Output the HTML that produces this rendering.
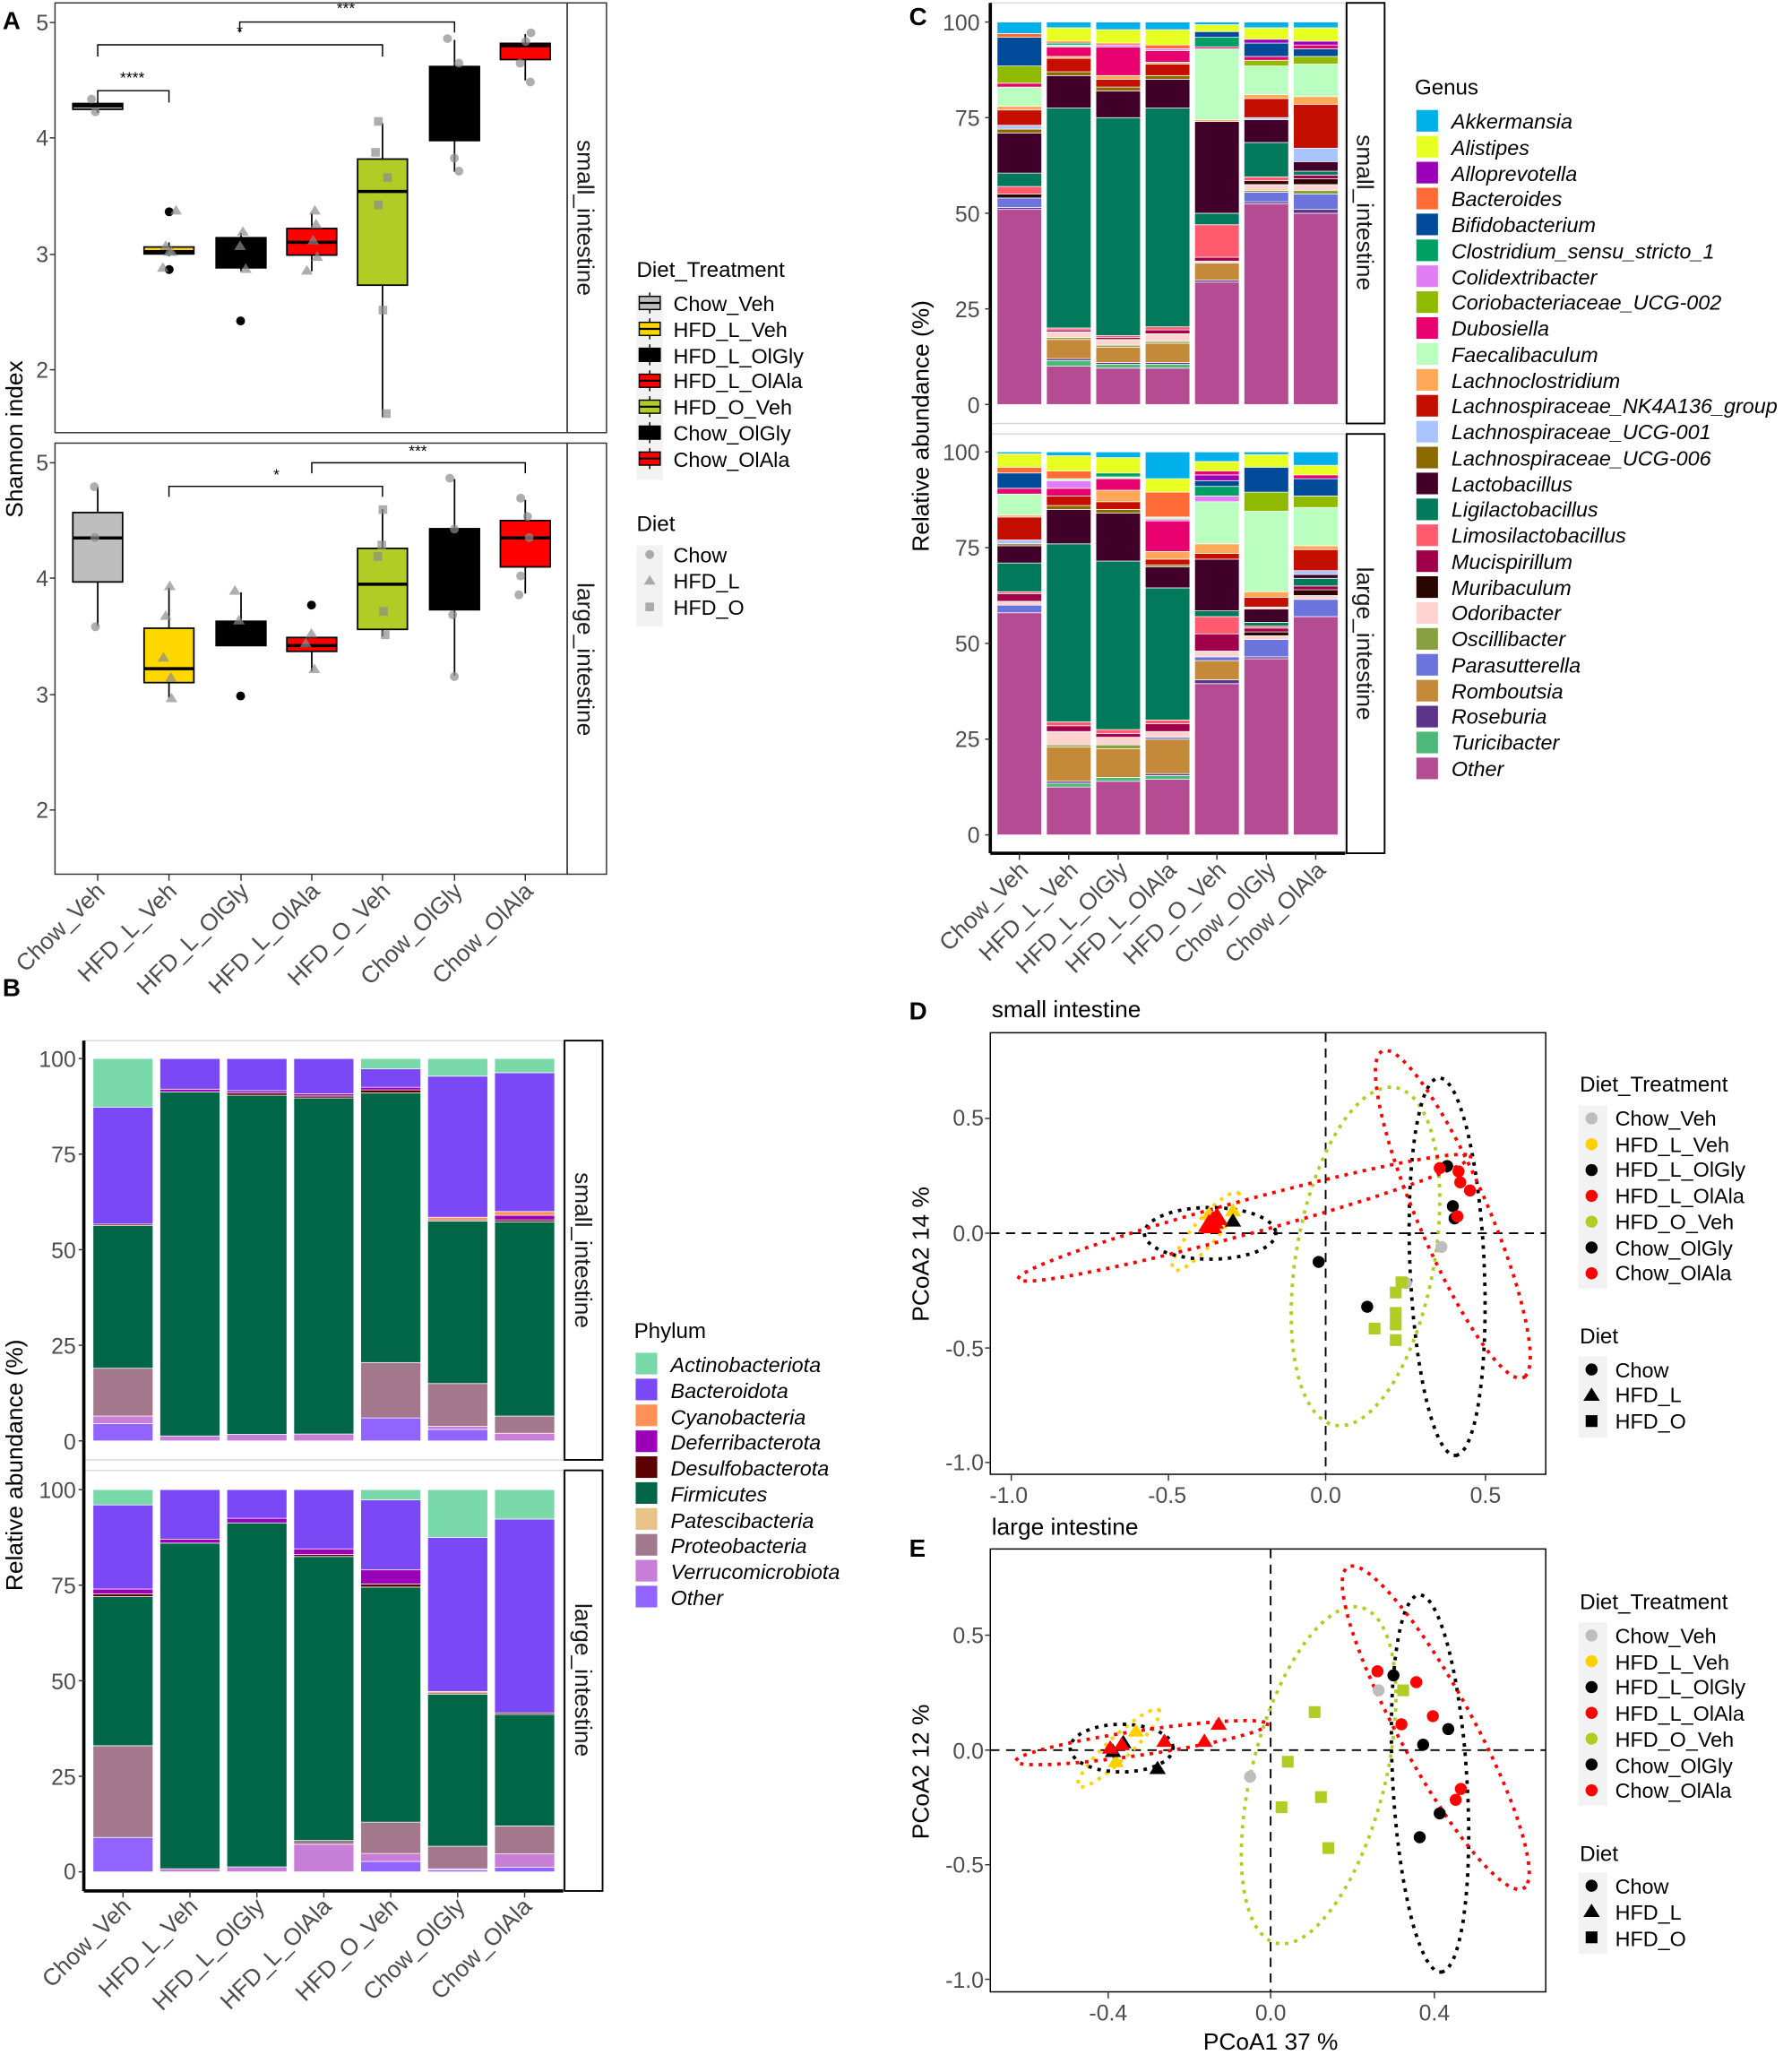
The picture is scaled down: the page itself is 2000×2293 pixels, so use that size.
<!DOCTYPE html>
<html><head><meta charset="utf-8"><style>
html,body{margin:0;padding:0;background:#fff}
svg{display:block}
text{font-family:"Liberation Sans",Arial,sans-serif}
.tk{font-size:17px;fill:#4d4d4d}
.lg{font-size:16px;fill:#000}
.lt{font-size:16.5px;fill:#000}
.it{font-size:16px;font-style:italic;fill:#000}
.st{font-size:18px;fill:#1a1a1a}
.at{font-size:18px;fill:#000}
.xl{font-size:18px;fill:#4d4d4d}
.pl{font-size:19px;font-weight:bold;fill:#000}
</style></head><body>
<svg id="s" xmlns="http://www.w3.org/2000/svg" width="2000" height="2293" viewBox="0 0 1368 1568">
<rect width="1368" height="1568" fill="#fff"/>
<g id="g"></g>
<!-- Panel letters -->
<text class="pl" x="2" y="22">A</text>
<text class="pl" x="2" y="760">B</text>
<text class="pl" x="694" y="19">C</text>
<text class="pl" x="694" y="778">D</text>
<text class="pl" x="694" y="1188">E</text>

<!-- Panel A ticks -->
<g class="tk" text-anchor="end">
<text x="37" y="23">5</text><text x="37" y="111">4</text><text x="37" y="200">3</text><text x="37" y="288">2</text>
<text x="37" y="359">5</text><text x="37" y="447">4</text><text x="37" y="536">3</text><text x="37" y="624">2</text>
</g>
<text class="at" transform="translate(17,335) rotate(-90)" text-anchor="middle">Shannon index</text>
<text class="st" transform="translate(441,166) rotate(90)" text-anchor="middle">small_intestine</text>
<text class="st" transform="translate(441,503) rotate(90)" text-anchor="middle">large_intestine</text>
<g class="xl" text-anchor="end">
<text transform="translate(81,681) rotate(-45)">Chow_Veh</text>
<text transform="translate(136,681) rotate(-45)">HFD_L_Veh</text>
<text transform="translate(191,681) rotate(-45)">HFD_L_OlGly</text>
<text transform="translate(245,681) rotate(-45)">HFD_L_OlAla</text>
<text transform="translate(299,681) rotate(-45)">HFD_O_Veh</text>
<text transform="translate(354,681) rotate(-45)">Chow_OlGly</text>
<text transform="translate(408,681) rotate(-45)">Chow_OlAla</text>
</g>
<g font-size="12" text-anchor="middle" fill="#000">
<text x="101" y="63">****</text><text x="183" y="28">*</text><text x="264" y="10">***</text>
<text x="211" y="366">*</text><text x="319" y="348">***</text>
</g>
<text class="lt" x="486" y="211">Diet_Treatment</text>
<g class="lg">
<text x="514" y="237">Chow_Veh</text><text x="514" y="257">HFD_L_Veh</text><text x="514" y="277">HFD_L_OlGly</text>
<text x="514" y="296">HFD_L_OlAla</text><text x="514" y="316">HFD_O_Veh</text><text x="514" y="336">Chow_OlGly</text><text x="514" y="356">Chow_OlAla</text>
</g>
<text class="lt" x="486" y="405">Diet</text>
<g class="lg"><text x="514" y="429">Chow</text><text x="514" y="449">HFD_L</text><text x="514" y="469">HFD_O</text></g>

<!-- Panel B -->
<g class="tk" text-anchor="end">
<text x="58" y="814">100</text><text x="58" y="887">75</text><text x="58" y="960">50</text><text x="58" y="1033">25</text><text x="58" y="1106">0</text>
<text x="58" y="1143">100</text><text x="58" y="1216">75</text><text x="58" y="1289">50</text><text x="58" y="1362">25</text><text x="58" y="1434">0</text>
</g>
<text class="at" transform="translate(17,1118) rotate(-90)" text-anchor="middle">Relative abundance (%)</text>
<text class="st" transform="translate(439,954) rotate(90)" text-anchor="middle">small_intestine</text>
<text class="st" transform="translate(439,1282) rotate(90)" text-anchor="middle">large_intestine</text>
<g class="xl" text-anchor="end">
<text transform="translate(101,1456) rotate(-45)">Chow_Veh</text>
<text transform="translate(152,1456) rotate(-45)">HFD_L_Veh</text>
<text transform="translate(203,1456) rotate(-45)">HFD_L_OlGly</text>
<text transform="translate(254,1456) rotate(-45)">HFD_L_OlAla</text>
<text transform="translate(305,1456) rotate(-45)">HFD_O_Veh</text>
<text transform="translate(356,1456) rotate(-45)">Chow_OlGly</text>
<text transform="translate(407,1456) rotate(-45)">Chow_OlAla</text>
</g>
<text class="lt" x="484" y="1021">Phylum</text>
<g class="it">
<text x="512" y="1047">Actinobacteriota</text><text x="512" y="1067">Bacteroidota</text><text x="512" y="1087">Cyanobacteria</text>
<text x="512" y="1106">Deferribacterota</text><text x="512" y="1126">Desulfobacterota</text><text x="512" y="1146">Firmicutes</text>
<text x="512" y="1166">Patescibacteria</text><text x="512" y="1185">Proteobacteria</text><text x="512" y="1205">Verrucomicrobiota</text><text x="512" y="1225">Other</text>
</g>

<!-- Panel C -->
<g class="tk" text-anchor="end">
<text x="748" y="23">100</text><text x="748" y="96">75</text><text x="748" y="169">50</text><text x="748" y="242">25</text><text x="748" y="315">0</text>
<text x="748" y="351">100</text><text x="748" y="424">75</text><text x="748" y="497">50</text><text x="748" y="570">25</text><text x="748" y="643">0</text>
</g>
<text class="at" transform="translate(709,325) rotate(-90)" text-anchor="middle">Relative abundance (%)</text>
<text class="st" transform="translate(1036,162) rotate(90)" text-anchor="middle">small_intestine</text>
<text class="st" transform="translate(1036,491) rotate(90)" text-anchor="middle">large_intestine</text>
<g class="xl" text-anchor="end">
<text transform="translate(786,665) rotate(-45)">Chow_Veh</text>
<text transform="translate(824,665) rotate(-45)">HFD_L_Veh</text>
<text transform="translate(862,665) rotate(-45)">HFD_L_OlGly</text>
<text transform="translate(899,665) rotate(-45)">HFD_L_OlAla</text>
<text transform="translate(937,665) rotate(-45)">HFD_O_Veh</text>
<text transform="translate(975,665) rotate(-45)">Chow_OlGly</text>
<text transform="translate(1013,665) rotate(-45)">Chow_OlAla</text>
</g>
<text class="lt" x="1080" y="72">Genus</text>
<g class="it" id="genusText">
<text x="1108" y="98">Akkermansia</text><text x="1108" y="118">Alistipes</text><text x="1108" y="138">Alloprevotella</text>
<text x="1108" y="157">Bacteroides</text><text x="1108" y="177">Bifidobacterium</text><text x="1108" y="197">Clostridium_sensu_stricto_1</text>
<text x="1108" y="217">Colidextribacter</text><text x="1108" y="236">Coriobacteriaceae_UCG-002</text><text x="1108" y="256">Dubosiella</text>
<text x="1108" y="276">Faecalibaculum</text><text x="1108" y="296">Lachnoclostridium</text><text x="1108" y="315">Lachnospiraceae_NK4A136_group</text>
<text x="1108" y="335">Lachnospiraceae_UCG-001</text><text x="1108" y="355">Lachnospiraceae_UCG-006</text><text x="1108" y="375">Lactobacillus</text>
<text x="1108" y="394">Ligilactobacillus</text><text x="1108" y="414">Limosilactobacillus</text><text x="1108" y="434">Mucispirillum</text>
<text x="1108" y="454">Muribaculum</text><text x="1108" y="473">Odoribacter</text><text x="1108" y="493">Oscillibacter</text>
<text x="1108" y="513">Parasutterella</text><text x="1108" y="533">Romboutsia</text><text x="1108" y="552">Roseburia</text>
<text x="1108" y="572">Turicibacter</text><text x="1108" y="592">Other</text>
</g>

<!-- Panel D/E -->
<text class="at" x="757" y="776">small intestine</text>
<text class="at" x="757" y="1171">large intestine</text>
<g class="tk" text-anchor="end">
<text x="751" y="859">0.5</text><text x="751" y="947">0.0</text><text x="751" y="1035">-0.5</text><text x="751" y="1122">-1.0</text>
<text x="751" y="1254">0.5</text><text x="751" y="1342">0.0</text><text x="751" y="1429">-0.5</text><text x="751" y="1517">-1.0</text>
</g>
<g class="tk" text-anchor="middle">
<text x="770" y="1147">-1.0</text><text x="891" y="1147">-0.5</text><text x="1012" y="1147">0.0</text><text x="1134" y="1147">0.5</text>
<text x="846" y="1542">-0.4</text><text x="970" y="1542">0.0</text><text x="1095" y="1542">0.4</text>
</g>
<text class="at" transform="translate(709,957) rotate(-90)" text-anchor="middle">PCoA2 14 %</text>
<text class="at" transform="translate(709,1352) rotate(-90)" text-anchor="middle">PCoA2 12 %</text>
<text class="at" x="970" y="1564" text-anchor="middle">PCoA1 37 %</text>
<text class="lt" x="1206" y="833">Diet_Treatment</text>
<g class="lg">
<text x="1233" y="859">Chow_Veh</text><text x="1233" y="879">HFD_L_Veh</text><text x="1233" y="898">HFD_L_OlGly</text>
<text x="1233" y="918">HFD_L_OlAla</text><text x="1233" y="938">HFD_O_Veh</text><text x="1233" y="958">Chow_OlGly</text><text x="1233" y="977">Chow_OlAla</text>
</g>
<text class="lt" x="1206" y="1025">Diet</text>
<g class="lg"><text x="1233" y="1051">Chow</text><text x="1233" y="1070">HFD_L</text><text x="1233" y="1090">HFD_O</text></g>
<text class="lt" x="1206" y="1228">Diet_Treatment</text>
<g class="lg">
<text x="1233" y="1254">Chow_Veh</text><text x="1233" y="1274">HFD_L_Veh</text><text x="1233" y="1293">HFD_L_OlGly</text>
<text x="1233" y="1313">HFD_L_OlAla</text><text x="1233" y="1333">HFD_O_Veh</text><text x="1233" y="1353">Chow_OlGly</text><text x="1233" y="1372">Chow_OlAla</text>
</g>
<text class="lt" x="1206" y="1420">Diet</text>
<g class="lg"><text x="1233" y="1445">Chow</text><text x="1233" y="1465">HFD_L</text><text x="1233" y="1485">HFD_O</text></g>
</svg>
<script>
(function(){
var g=document.getElementById('g'),NS='http://www.w3.org/2000/svg';
function el(t,a){var e=document.createElementNS(NS,t);for(var k in a)e.setAttribute(k,a[k]);g.appendChild(e);return e;}
function R(x,y,w,h,f,s,sw){return el('rect',{x:x,y:y,width:w,height:h,fill:f||'none',stroke:s||'none','stroke-width':sw||1});}
function L(x1,y1,x2,y2,s,sw,da){var a={x1:x1,y1:y1,x2:x2,y2:y2,stroke:s||'#000','stroke-width':sw||1};if(da)a['stroke-dasharray']=da;return el('line',a);}
function C(x,y,r,f){return el('circle',{cx:x,cy:y,r:r,fill:f});}
function T(x,y,s,f){return el('path',{d:'M'+x+','+(y-s)+'L'+(x+s*1.05)+','+(y+s*0.7)+'L'+(x-s*1.05)+','+(y+s*0.7)+'Z',fill:f});}
function S(x,y,s,f){return R(x-s,y-s,2*s,2*s,f);}
var k=0.4363;
/* ---------- Panel A ---------- */
R(42,2,391,328,'none','#333',1);R(433,2,30,328,'none','#333',1);
R(42,338,391,329,'none','#333',1);R(433,338,30,329,'none','#333',1);
var cx=[74.6,129,184,238,292,347,401];
cx.forEach(function(x){L(x,667,x,672,'#333',1);});
[17,105,194,282,353,441,530,618].forEach(function(y){L(38,y,42,y,'#333',1);});
function yT(v){return 17+(5-v)*88.3;} function yB(v){return 353+(5-v)*88.3;}
var fills=['#bebebe','#ffd700','#000','#ff0000','#b2cc26','#000','#ff0000'];
var top=[[4.25,4.28,4.30,4.22,4.32],[3.0,3.02,3.06,2.98,3.1],[2.88,3.13,3.14,2.85,3.18],[2.99,3.1,3.22,2.85,3.35],[2.73,3.54,3.82,1.59,4.13],[3.98,4.3,4.62,3.71,4.85],[4.68,4.8,4.82,4.5,4.9]];
var bot=[[3.97,4.35,4.57,3.59,4.79],[3.1,3.22,3.57,2.97,3.92],[3.42,3.6,3.63,3.42,3.88],[3.37,3.42,3.49,3.2,3.5],[3.56,3.95,4.26,3.5,4.6],[3.73,4.1,4.43,3.16,4.86],[4.1,4.35,4.5,3.87,4.68]];
function boxes(d,yf){d.forEach(function(b,i){var x=cx[i];L(x,yf(b[3]),x,yf(b[4]),'#000',1.2);
R(x-19,yf(b[2]),38,yf(b[0])-yf(b[2]),fills[i],'#000',1.2);L(x-19,yf(b[1]),x+19,yf(b[1]),'#000',2.4);});}
boxes(top,yT);boxes(bot,yB);
function pts(list,shape,col){list.forEach(function(p){var x=p[0]*k,y=p[1]*k;if(shape=='c')C(x,y,3.4,col);else if(shape=='t')T(x,y,4.3,col);else S(x,y,3.3,col);});}
var gr='rgba(140,140,140,0.7)';
pts([[160,173],[167,195]],'c',gr);pts([[296,370],[296,471],[421,561]],'c','#000');
pts([[308,368],[290,430],[296,440],[285,468],[300,440],[425,405],[430,470],[420,430],[551,368],[553,392],[537,473],[555,449],[548,420]],'t',gr);
pts([[662,212],[657,266],[678,310],[662,358],[670,542],[676,723]],'s',gr);
pts([[783,67],[803,110],[795,276],[803,299],[929,57],[920,72],[910,110],[928,143]],'c',gr);
pts([[165,851],[166,940],[167,1096],[787,836],[795,925],[792,1075],[795,1183],[911,871],[923,903],[926,940],[911,1007],[908,1040]],'c',gr);
pts([[421,1217],[545,1058]],'c','#000');
pts([[297,1025],[290,1077],[286,1150],[299,1185],[300,1221],[411,1033],[418,1085],[545,1108],[550,1170],[535,1125]],'t',gr);
pts([[670,891],[668,953],[661,973],[671,1069],[674,1110]],'s',gr);
// brackets
function br(x1,x2,y,h1,h2){el('path',{d:'M'+x1+','+(y+h1)+'V'+y+'H'+x2+'V'+(y+h2),fill:'none',stroke:'#000','stroke-width':1});}
br(74.6,129,69,9,9);br(74.6,292,34,9,9);br(183,347,16.6,8,8);
br(129,292,371,8,8);br(238,401,353,8,8);
// legend A
R(486,224,20,142,'#f2f2f2');R(486,416,20,62,'#f2f2f2');
fills.forEach(function(f,i){var y=231+i*19.8;L(496,y-8,496,y+8,'#000',1);R(488,y-5,16,10,f,'#000',1);L(488,y,504,y,'#000',1.5);});
C(496,423,3.4,gr);T(496,443,4.3,gr);S(496,463,3.3,gr);
/* ---------- Panel B ---------- */
var PC={A:'#79d9a9',B:'#7a48f5',C:'#ff9057',D:'#9a00b8',E:'#5c0000',F:'#006646',P:'#e8c288',R:'#a3788c',V:'#c77ed6',O:'#9264ff'};
R(64,794,366,320,'#fff','#d9d9d9',1);R(64,1122,366,321,'#fff','#d9d9d9',1);
R(431,794,29,320,'none','#000',1.3);R(431,1122,29,321,'none','#000',1.3);
L(64,794,64,1443,'#000',2.5);L(64,1443,430,1443,'#000',2.5);
var bT=[[['O',4.5],['V',6.5],['R',19],['F',56.3],['E',56.7],['B',87.3],['A',100]],
[['V',1.3],['F',91.3],['D',92],['B',100]],
[['V',1.7],['F',90.4],['E',91],['D',91.6],['B',100]],
[['V',1.8],['F',89.7],['E',90.2],['D',90.8],['B',100]],
[['O',6],['R',20.5],['F',91],['E',91.8],['D',92.5],['B',97.3],['A',100]],
[['O',3],['V',3.8],['R',15],['F',57.5],['E',57.8],['C',58.5],['B',95.4],['A',100]],
[['V',2],['R',6.5],['F',57.3],['E',57.8],['D',59],['C',60],['B',96.3],['A',100]]];
var bB=[[['O',9],['R',33],['F',72],['E',72.7],['D',74],['B',96],['A',100]],
[['V',0.8],['F',86],['D',87],['B',100]],
[['V',1.3],['F',91.3],['D',92.5],['B',100]],
[['V',7.2],['R',8.2],['F',82.5],['E',83],['D',84.5],['B',100]],
[['O',2.7],['V',4.8],['R',13],['F',74.5],['E',75.3],['D',79],['B',97.3],['A',100]],
[['O',0.5],['V',0.8],['R',6.7],['F',46.5],['E',46.8],['C',47.2],['B',87.5],['A',100]],
[['O',1.2],['V',4.7],['R',12],['F',41.2],['E',41.6],['B',92.3],['A',100]]];
function stack(data,cols,x0,dx,w,y0,sc){data.forEach(function(bar,i){var x=x0+dx*i,prev=0;bar.forEach(function(s){var c=cols[s[0]];var ya=y0-s[1]*sc,yb=y0-prev*sc;R(x,ya,w,yb-ya,c,'#fff',0.5);prev=s[1];});});}
stack(bT,PC,71,51.1,45.8,1099.5,2.918);stack(bB,PC,71,51.1,45.8,1428.4,2.917);
[0,25,50,75,100].forEach(function(v){L(60,1099.5-v*2.918,64,1099.5-v*2.918,'#333',1);L(60,1428.4-v*2.917,64,1428.4-v*2.917,'#333',1);});
for(var i=0;i<7;i++){var x=71+51.1*i+22.9;L(x,1443,x,1448,'#333',1);}
['A','B','C','D','E','F','P','R','V','O'].forEach(function(c,i){R(485,1032+i*19.76,17,17,PC[c],'#fff',0.5);});
/* ---------- Panel C ---------- */
var G={ak:'#00b0eb',al:'#e8ff22',ap:'#9a00b8',bc:'#ff6b36',bf:'#004a9a',cl:'#00a064',co:'#e27ef5',cr:'#8fba00',du:'#e8006f',fa:'#bbffc0',lc:'#ffa858',nk:'#c40e00',u1:'#aac4ff',u6:'#8b6b00',lb:'#40002a',lg:'#007a5a',lm:'#ff5a6e',mu:'#a0004a',mb:'#2a0600',od:'#ffd4d0',os:'#88a040',pa:'#6b74dc',ro:'#c48a3a',rs:'#5a3488',tu:'#4cb87a',ot:'#b54c93'};
R(756,2,271,321,'#fff','#d9d9d9',1);R(756,331,271,320,'#fff','#d9d9d9',1);
R(1028,2,29,321,'none','#000',1.3);R(1028,331,29,320,'none','#000',1.3);
L(756,2,756,651,'#000',2.5);L(756,651,1027,651,'#000',2.5);
function P(s){return s.split(' ').map(function(t){var a=t.split(':');return [a[0],parseFloat(a[1])];});}
var cT=[P('ot:51 rs:51.5 pa:54 mb:55 lm:57 lg:60.5 lb:71 u6:72 u1:73 nk:77 lc:78 fa:83 du:84 cr:88.5 bf:96 bc:97 ak:100'),
P('ot:10 tu:11.5 rs:12 ro:17 os:17.5 od:19 mu:19.5 lm:20 lg:77.5 lb:86 u6:87 nk:90.5 lc:91 du:93.5 fa:94 cl:94.5 bc:95 al:98.5 ak:100'),
P('ot:9.5 tu:10.5 rs:11 ro:15 os:15.5 od:17 mu:17.5 lm:18 lg:75 lb:82 u6:83 nk:85 lc:86 du:93.5 co:94 bc:94.5 al:98 ak:100'),
P('ot:9.5 tu:10.5 rs:11 ro:16 os:16.5 od:18.5 mu:19.5 lm:20.3 lg:77.5 lb:85 u6:86 nk:89 lc:89.5 du:92.5 co:93 bc:94 al:98 ak:100'),
P('ot:32 rs:32.5 ro:37 od:37.5 mu:38.5 lm:47 lg:50 lb:74 lc:74.5 fa:93 du:93.5 cl:96 bf:97.5 al:99.3 ak:100'),
P('ot:52.5 rs:53 pa:55.5 os:56 od:57.5 mb:58.5 lm:59.5 lg:68.5 lb:74.5 u1:75 nk:80 lc:81 fa:88.5 cr:90 du:91 bf:94.5 ap:95.5 al:98.5 ak:100'),
P('ot:50 rs:51 pa:55 os:56 od:57.5 mb:59 mu:60 lg:61 lb:63.5 u1:67 nk:78.5 lc:80.5 fa:89 cr:91 bf:93 du:94 ap:95 al:98.5 ak:100')];
var cB=[P('ot:58 pa:60 od:61 mu:63 lm:63.5 lg:71 lb:75.5 u6:76 u1:77 nk:83 lc:83.5 fa:89 du:90.5 bf:94.5 bc:96 al:99.5 ak:100'),
P('ot:12.5 tu:13.5 rs:14 ro:23 os:23.5 od:27 mu:28.5 lm:29.5 lg:76 lb:85 u6:86 nk:88.5 du:90.5 co:92.5 fa:93 bc:95 al:99 ak:100'),
P('ot:14 tu:15 ro:22.5 os:23.5 od:25.5 mu:26.5 lm:27.5 lg:71.5 lb:84 u6:85 nk:87 lc:90 du:93 fa:93.5 cl:94.5 al:98.5 ak:100'),
P('ot:14.5 tu:15.5 rs:16 ro:25 pa:25.5 od:27 mu:29 lm:30 lg:64.5 lb:70 u6:70.5 nk:72 lc:74 du:82 co:82.5 fa:83 bc:89.5 al:93 ak:100'),
P('ot:39.5 rs:40.5 ro:45.5 pa:46.5 od:48 mu:52.5 lm:57 lg:58.5 lb:72 nk:73.5 lc:76 fa:87 co:88.5 cl:91 bf:92.5 ap:94 du:95 al:97.5 ak:100'),
P('ot:46 rs:46.5 pa:51 od:52 mb:53 mu:54 lm:54.5 lg:55.5 lb:59 od:59.5 nk:62 lc:63.5 fa:84.5 cr:89.5 bf:96 al:99.3 ak:100'),
P('ot:57 pa:61.5 od:62.5 mb:64 mu:65 lg:67 lb:68 u1:69 nk:74.5 lc:75.5 fa:85.5 cr:88.5 bf:93 du:94 al:96.5 ak:100')];
stack(cT,G,761.2,37.7,34,308.5,2.919);stack(cB,G,761.2,37.7,34,637,2.923);
[0,25,50,75,100].forEach(function(v){L(752,308.5-v*2.919,756,308.5-v*2.919,'#333',1);L(752,637-v*2.923,756,637-v*2.923,'#333',1);});
for(var i=0;i<7;i++){var x=761.2+37.7*i+17;L(x,651,x,656,'#333',1);}
['ak','al','ap','bc','bf','cl','co','cr','du','fa','lc','nk','u1','u6','lb','lg','lm','mu','mb','od','os','pa','ro','rs','tu','ot'].forEach(function(c,i){R(1081,83.5+i*19.77,17,17,G[c],'#fff',0.5);});
/* ---------- Panels D/E ---------- */
function zx(z){return 684+z*0.436;} function zy(z){return 788+(z-68)*0.519;}
R(756,788,424,337,'#fff','#000',1);R(756,1182,424,338,'#fff','#000',1);
L(1012,788,1012,1125,'#000',1.3,'7 5');L(756,941,1180,941,'#000',1.3,'7 5');
L(970,1182,970,1520,'#000',1.3,'7 5');L(756,1335.5,1180,1335.5,'#000',1.3,'7 5');
[853.4,941,1028.6,1116].forEach(function(y){L(752,y,756,y,'#333',1);});
[1247.8,1335.5,1423,1510.4].forEach(function(y){L(752,y,756,y,'#333',1);});
[772,892,1012,1134].forEach(function(x){L(x,1125,x,1130,'#333',1);});
[846,970,1095].forEach(function(x){L(x,1520,x,1525,'#333',1);});
function ell(cx0,cy0,a,b,ang,col){var r=ang*Math.PI/180,d='';for(var i=0;i<=120;i++){var t=i/120*2*Math.PI;var ex=a*Math.cos(t),ey=b*Math.sin(t);var X=cx0+ex*Math.cos(r)-ey*Math.sin(r),Y=cy0+ex*Math.sin(r)+ey*Math.cos(r);d+=(i?'L':'M')+zx(X).toFixed(1)+','+zy(Y).toFixed(1);}
el('path',{d:d,fill:'none',stroke:col,'stroke-width':2.6,'stroke-dasharray':'0.1 7','stroke-linecap':'square'});}
var RED='#ff0000',BLK='#000',YEL='#ffd000',GRN='#b2cc26',GRY='#bdbdbd';
// D ellipses
ell(822,397,254,120,-77,GRN);ell(543,360,80,20,-44,YEL);ell(550,363,115,38,0,BLK);
ell(965,412,278,65,87,BLK);ell(610,340,406,25,-12.8,RED);ell(975,335,270,60,62.5,RED);
// E ellipses
ell(740,1160,258,115,-72,GRN);ell(390,1120,90,18,-38,YEL);ell(395,1120,90,35,0,BLK);
ell(935,1172,278,65,86,BLK);ell(430,1112,222,18,-7,RED);ell(945,1090,282,62,56.6,RED);
function zp(list,shape,col,sz){list.forEach(function(p){var x=zx(p[0]),y=zy(p[1]);if(shape=='c')C(x,y,sz||4.6,col);else if(shape=='t')T(x,y,sz||6,col);else S(x,y,sz||4.5,col);});}
// D points
zp([[548,335],[590,330],[560,350]],'t',YEL);zp([[590,345]],'t',BLK);
zp([[555,345],[548,350],[562,340],[552,352]],'t',RED,8);
zp([[893,436],[955,383]],'c',GRY);
zp([[838,503],[875,450],[875,480],[875,497],[875,520],[885,435]],'s',GRN);
zp([[740,405],[825,471],[965,264],[975,323],[978,341]],'c',BLK);
zp([[952,267],[985,272],[988,288],[1005,300],[983,338]],'c',RED);
// E points
zp([[420,1095],[385,1140]],'t',YEL);zp([[380,1125],[398,1112],[458,1150]],'t',BLK);
zp([[375,1120],[395,1115],[470,1110],[540,1110],[565,1085]],'t',RED);
zp([[620,1162],[845,1035]],'c',GRY);
zp([[733,1067],[686,1140],[675,1207],[744,1192],[757,1267],[888,1035]],'s',GRN);
zp([[871,1013],[923,1115],[967,1092],[952,1216],[917,1251]],'c',BLK);
zp([[843,1007],[911,1023],[885,1085],[940,1073],[989,1180],[980,1196]],'c',RED);
// legends D/E
function leg(y0,dy){R(1205,y0-10,22,19.7*7+2,'#f2f2f2');var cs=[GRY,YEL,BLK,RED,GRN,BLK,RED];cs.forEach(function(c,i){C(1215,y0+i*19.7,4.6,c);});}
function leg2(y0){R(1205,y0-10,22,62,'#f2f2f2');C(1215,y0,4.6,'#000');T(1215,y0+19.7,6,'#000');S(1215,y0+39.4,4.5,'#000');}
leg(853.4);leg2(1045);leg(1248);leg2(1439);
})();
</script>
</body></html>
